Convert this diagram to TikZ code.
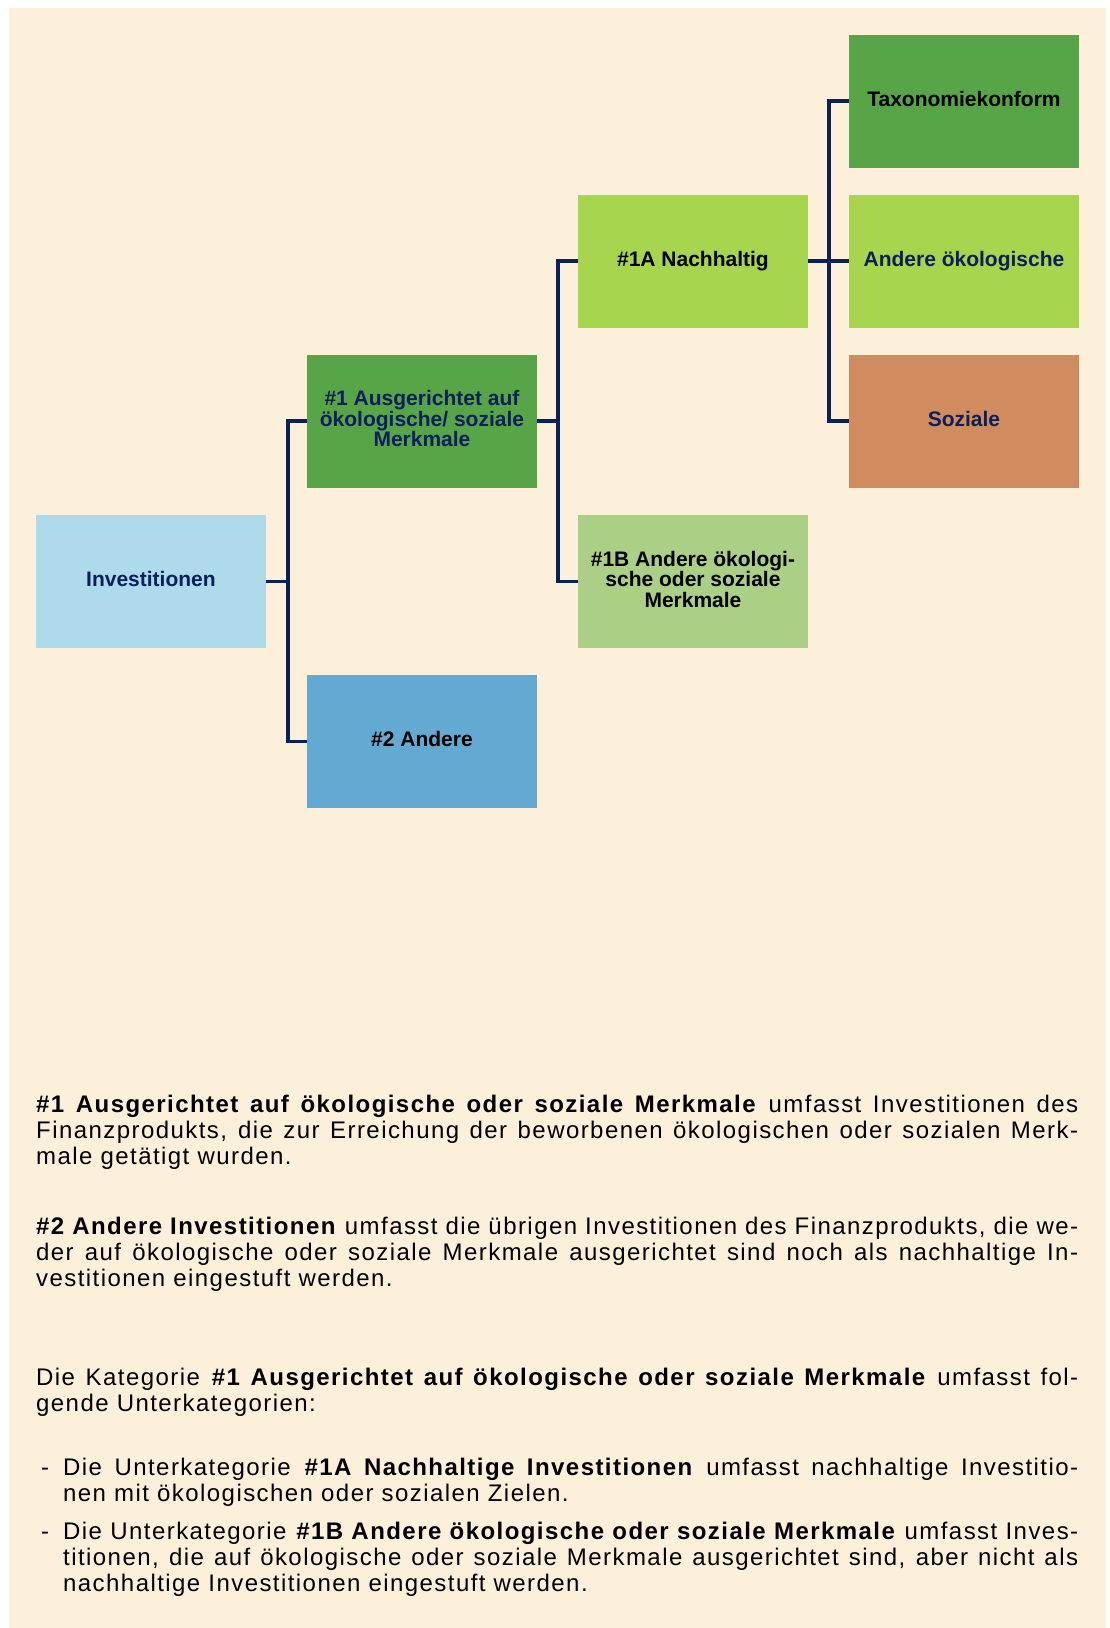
\documentclass[tikz,border=0pt]{standalone}
\usepackage{fontspec}
\setmainfont{Liberation Sans}
\newfontfamily\bodyfont[LetterSpace=6]{Liberation Sans}
\definecolor{bg}{HTML}{FDF0DB}
\definecolor{navy}{HTML}{0B1F5C}
\definecolor{lblue}{HTML}{ADDBEB}
\definecolor{dgreen}{HTML}{58A547}
\definecolor{mblue}{HTML}{63AAD2}
\definecolor{lgreen}{HTML}{A8D54E}
\definecolor{sgreen}{HTML}{ABCF85}
\definecolor{orange}{HTML}{D08C5E}
\newcommand\dn{\rule[-4.5pt]{0pt}{4.5pt}}
\newcommand\bodyset{\bodyfont\fontsize{24}{26}\selectfont\hyphenpenalty=10000 }
\begin{document}
\begin{tikzpicture}[x=1pt,y=-1pt,
  box/.style={rectangle, minimum width=229.5pt, minimum height=133pt, inner sep=0pt,
    align=center, font=\fontsize{21}{20.5}\selectfont\bfseries, anchor=north west},
  one/.style={text height=15pt, text depth=4.5pt},
  conn/.style={draw=navy, line width=3.5pt},
  para/.style={anchor=base west, inner sep=0pt}]
\useasboundingbox (0,0) rectangle (1110,1628);
\fill[bg] (8.5,7.5) rectangle (1106,1628);

\node[box, one, fill=lblue, text=navy] (inv) at (36,514.7) {Investitionen};
\node[box, fill=dgreen, text=navy] (n1) at (307,354.3) {\#1 Ausgerichtet auf\\ökologische/ soziale\\Merkmale\dn};
\node[box, one, fill=mblue, text=black] (n2) at (307,674.7) {\#2 Andere};
\node[box, one, fill=lgreen, text=black] (n1a) at (578,194.3) {\#1A Nachhaltig};
\node[box, fill=sgreen, text=black] (n1b) at (578,514.7) {\#1B Andere ökologi-\\sche oder soziale\\Merkmale\dn};
\node[box, one, fill=dgreen, text=black] (tax) at (849,34.3) {Taxonomiekonform};
\node[box, one, fill=lgreen, text=navy] (ando) at (849,194.3) {Andere ökologische};
\node[box, one, fill=orange, text=navy] (soz) at (849,354.3) {Soziale};

\draw[conn] (inv.east) -- ++(22,0) coordinate (s1);
\draw[conn] (n1.west) -| (s1) |- (n2.west);
\draw[conn] (n1.east) -- ++(21,0) coordinate (s2);
\draw[conn] (n1a.west) -| (s2) |- (n1b.west);
\draw[conn] (n1a.east) -- ++(21,0) coordinate (s3);
\draw[conn] (tax.west) -| (s3) |- (soz.west);
\draw[conn] (s3) -- (ando.west);

\node[para] (p1) at (36,1112.5) {\parbox[t]{1042pt}{\bodyset
\textbf{\#1 Ausgerichtet auf ökologische oder soziale Merkmale} umfasst Investitionen des\linebreak
Finanzprodukts, die zur Erreichung der beworbenen ökologischen oder sozialen Merk-\linebreak
male getätigt wurden.}};
\node[para] (p2) at (36,1234.5) {\parbox[t]{1042pt}{\bodyset
\textbf{\#2 Andere Investitionen} umfasst die übrigen Investitionen des Finanzprodukts, die we-\linebreak
der auf ökologische oder soziale Merkmale ausgerichtet sind noch als nachhaltige In-\linebreak
vestitionen eingestuft werden.}};
\node[para] (p3) at (36,1385) {\parbox[t]{1042pt}{\bodyset
Die Kategorie \textbf{\#1 Ausgerichtet auf ökologische oder soziale Merkmale} umfasst fol-\linebreak
gende Unterkategorien:}};
\node[para, font=\bodyset] (d1) at (41,1475.7) {-};
\node[para] (b1) at (63,1475.7) {\parbox[t]{1015pt}{\bodyset
Die Unterkategorie \textbf{\#1A Nachhaltige Investitionen} umfasst nachhaltige Investitio-\linebreak
nen mit ökologischen oder sozialen Zielen.}};
\node[para, font=\bodyset] (d2) at (41,1539) {-};
\node[para] (b2) at (63,1539) {\parbox[t]{1015pt}{\bodyset
Die Unterkategorie \textbf{\#1B Andere ökologische oder soziale Merkmale} umfasst Inves-\linebreak
titionen, die auf ökologische oder soziale Merkmale ausgerichtet sind, aber nicht als\linebreak
nachhaltige Investitionen eingestuft werden.}};
\end{tikzpicture}
\end{document}
